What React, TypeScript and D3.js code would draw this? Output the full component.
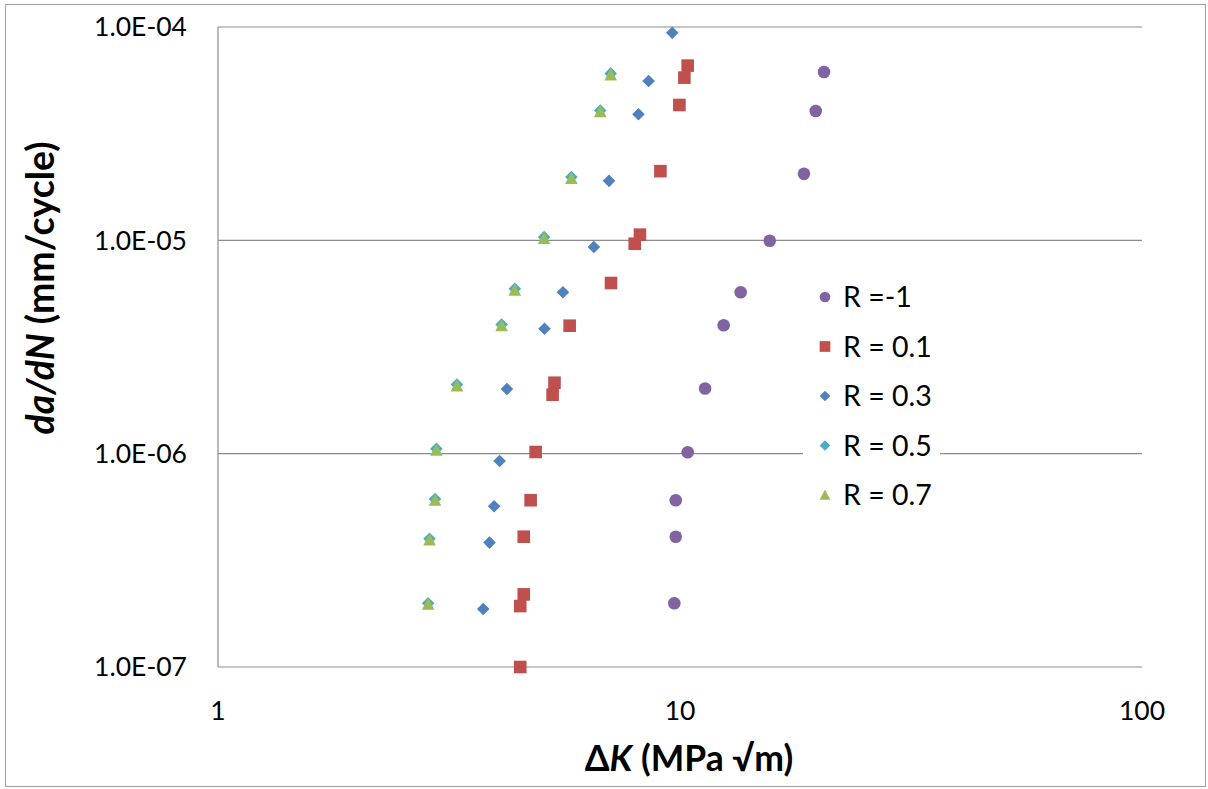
import React from "react";
import * as d3 from "d3";

// ΔK (MPa√m) and da/dN (mm/cycle) for each stress ratio
const rNeg1DK = [20.5, 19.67, 18.55, 15.64, 13.53, 12.43, 11.33, 10.39, 9.79, 9.79, 9.72];
const rNeg1Rate = [6.15e-5, 4.04e-5, 2.05e-5, 9.95e-6, 5.71e-6, 4.0e-6, 2.02e-6, 1.015e-6, 6.05e-7, 4.08e-7, 1.99e-7];

const r01DK = [10.39, 10.22, 9.97, 9.07, 8.19, 7.98, 7.09, 5.77, 5.35, 5.3, 4.87, 4.75, 4.59, 4.59, 4.51, 4.51];
const r01Rate = [6.59e-5, 5.79e-5, 4.31e-5, 2.11e-5, 1.063e-5, 9.64e-6, 6.31e-6, 3.98e-6, 2.15e-6, 1.89e-6, 1.018e-6, 6.05e-7, 4.08e-7, 2.19e-7, 1.93e-7, 1.0e-7];

const r03DK = [9.62, 8.55, 8.13, 7.02, 6.51, 5.58, 5.09, 4.22, 4.07, 3.96, 3.87, 3.75];
const r03Rate = [9.4e-5, 5.58e-5, 3.9e-5, 1.9e-5, 9.31e-6, 5.71e-6, 3.85e-6, 2.01e-6, 9.24e-7, 5.67e-7, 3.83e-7, 1.87e-7];

const r05DK = [7.08, 6.72, 5.82, 5.08, 4.39, 4.11, 3.29, 2.97, 2.95, 2.87, 2.85];
const r05Rate = [6.05e-5, 4.06e-5, 1.98e-5, 1.035e-5, 5.93e-6, 4.03e-6, 2.11e-6, 1.055e-6, 6.13e-7, 3.99e-7, 1.99e-7];

const r07DK = [7.08, 6.72, 5.82, 5.08, 4.39, 4.11, 3.29, 2.97, 2.95, 2.87, 2.85];
const r07Rate = [5.96e-5, 4.01e-5, 1.95e-5, 1.02e-5, 5.85e-6, 3.98e-6, 2.08e-6, 1.04e-6, 6.05e-7, 3.94e-7, 1.97e-7];

const xTicks = [1, 10, 100];
const xTickLabels = ["1", "10", "100"];
const yTicks = [1e-7, 1e-6, 1e-5, 1e-4];
const yTickLabels = ["1.0E-07", "1.0E-06", "1.0E-05", "1.0E-04"];

type Shape = "circle" | "square" | "diamond" | "triangle";

const seriesList: { name: string; dk: number[]; rate: number[]; color: string; shape: Shape }[] = [
  { name: "R =-1", dk: rNeg1DK, rate: rNeg1Rate, color: "#8064A2", shape: "circle" },
  { name: "R = 0.1", dk: r01DK, rate: r01Rate, color: "#C0504D", shape: "square" },
  { name: "R = 0.3", dk: r03DK, rate: r03Rate, color: "#4F81BD", shape: "diamond" },
  { name: "R = 0.5", dk: r05DK, rate: r05Rate, color: "#4BACC6", shape: "diamond" },
  { name: "R = 0.7", dk: r07DK, rate: r07Rate, color: "#9BBB59", shape: "triangle" },
];

const W = 1208;
const H = 789;
const plot = { left: 218, right: 1142, top: 27, bottom: 667 };
const FONT = "Lato, 'Open Sans', sans-serif";

function Marker({ shape, x, y, color, size = 1 }: { shape: Shape; x: number; y: number; color: string; size?: number }) {
  const s = 6.3 * size;
  if (shape === "circle") return <circle cx={x} cy={y} r={s} fill={color} />;
  if (shape === "square") return <rect x={x - s} y={y - s} width={2 * s} height={2 * s} fill={color} />;
  if (shape === "diamond")
    return <path d={`M${x},${y - s}L${x + s},${y}L${x},${y + s}L${x - s},${y}Z`} fill={color} />;
  const h = s * 1.05;
  return <path d={`M${x},${y - h}L${x + s},${y + h * 0.85}L${x - s},${y + h * 0.85}Z`} fill={color} />;
}

export default function App() {
  const x = d3.scaleLog().domain([1, 100]).range([plot.left, plot.right]);
  const y = d3.scaleLog().domain([1e-7, 1e-4]).range([plot.bottom, plot.top]);

  const legendX = 825;
  const legendY0 = 297;
  const legendStep = 49.5;

  return (
    <svg
      width={W}
      height={H}
      viewBox={`0 0 ${W} ${H}`}
      style={{ position: "absolute", left: 0, top: 0, background: "#fff" }}
    >
      <rect x={5.5} y={4.5} width={1200} height={782} fill="#fff" stroke="#a6a6a6" strokeWidth={1.2} />

      {/* horizontal gridlines */}
      {yTicks.slice(1).map((t) => (
        <line key={t} x1={plot.left} x2={plot.right} y1={y(t)} y2={y(t)} stroke="#8c8c8c" strokeWidth={1.2} />
      ))}
      {/* axes */}
      <line x1={plot.left} x2={plot.left} y1={plot.top} y2={plot.bottom} stroke="#8c8c8c" strokeWidth={1.2} />
      <line x1={plot.left} x2={plot.right} y1={plot.bottom} y2={plot.bottom} stroke="#8c8c8c" strokeWidth={1.2} />

      {/* tick labels */}
      {yTicks.map((t, i) => (
        <text key={t} x={187} y={y(t)} dy="0.35em" textAnchor="end" fontFamily={FONT} fontSize={26.5} fill="#000">
          {yTickLabels[i]}
        </text>
      ))}
      {xTicks.map((t, i) => (
        <text key={t} x={x(t)} y={720} textAnchor="middle" fontFamily={FONT} fontSize={26.5} fill="#000">
          {xTickLabels[i]}
        </text>
      ))}

      {/* data */}
      {seriesList.map((s) => (
        <g key={s.name}>
          {s.dk.map((k, i) => (
            <Marker key={i} shape={s.shape} x={x(k)} y={y(s.rate[i])} color={s.color} />
          ))}
        </g>
      ))}

      {/* legend */}
      <rect x={803} y={272} width={137} height={248} fill="#fff" />
      {seriesList.map((s, i) => (
        <g key={s.name}>
          <Marker shape={s.shape} x={legendX} y={legendY0 + i * legendStep} color={s.color} size={0.85} />
          <text x={843} y={legendY0 + i * legendStep} dy="0.36em" fontFamily={FONT} fontSize={28.5} fill="#000">
            {s.name}
          </text>
        </g>
      ))}

      {/* axis titles */}
      <text x={689} y={771} textAnchor="middle" fontFamily={FONT} fontSize={35.5} fontWeight="bold" fill="#000">
        <tspan>Δ</tspan>
        <tspan fontStyle="italic">K</tspan>
        <tspan> (MPa √m)</tspan>
      </text>
      <text
        transform="translate(54,288) rotate(-90)"
        textAnchor="middle"
        fontFamily={FONT}
        fontSize={37.5}
        fontWeight="bold"
        fill="#000"
      >
        <tspan fontStyle="italic">da/dN</tspan>
        <tspan> (mm/cycle)</tspan>
      </text>
    </svg>
  );
}
